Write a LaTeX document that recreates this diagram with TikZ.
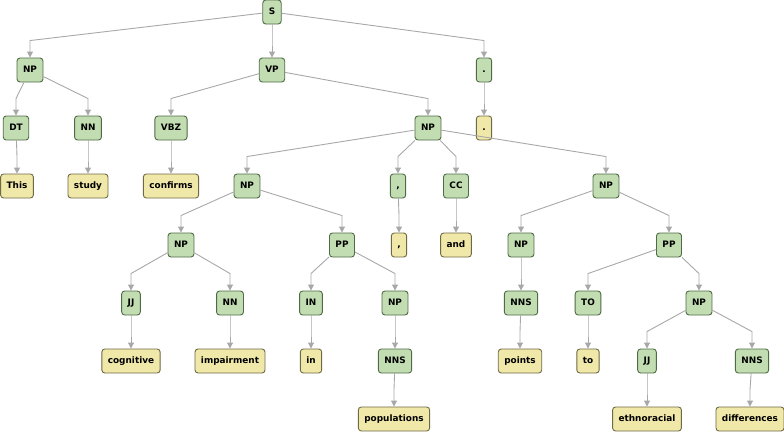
\documentclass[tikz,border=0pt]{standalone}
\usepackage{fontspec}
\setmainfont{DejaVu Sans}
\usetikzlibrary{arrows.meta}
\definecolor{gfill}{HTML}{C3DDB2}
\definecolor{gdraw}{HTML}{4E6B45}
\definecolor{yfill}{HTML}{F0E8A8}
\definecolor{ydraw}{HTML}{6E6A45}
\definecolor{edgec}{HTML}{A8A8A8}
\tikzset{
  base/.style={rounded corners=3pt, line width=0.9pt, minimum height=24pt, inner ysep=0pt, inner xsep=6pt,
    text height=6.5pt, text depth=1.7pt, font=\fontsize{8.9pt}{10pt}\selectfont\bfseries, text=black},
  tag/.style={base, fill=gfill, draw=gdraw},
  word/.style={base, fill=yfill, draw=ydraw},
  conn/.style={draw=edgec, line width=0.9pt, -{Triangle[width=6pt,length=6pt]}},
}
\newcommand{\lnk}[2]{\draw[conn] (#1) -- ([yshift=17pt]#2.north) -- (#2.north);}
\begin{document}
\begin{tikzpicture}[x=1pt,y=-1pt]
\useasboundingbox (0,0) rectangle (784,434);
% level 0
\node[tag] (S) at (272,12) {S};
% level 1
\node[tag] (NPa) at (30,70) {NP};
\node[tag] (VP) at (272,70) {VP};
\node[tag] (dotP) at (484,70) {.};
% level 2
\node[tag] (DT) at (16,128) {DT};
\node[tag] (NNa) at (88,128) {NN};
\node[tag] (VBZ) at (171,128) {VBZ};
\node[tag] (NPb) at (428,128) {NP};
\node[word] (dotW) at (484,128) {.};
% level 3
\node[word] (This) at (17,186) {This};
\node[word] (study) at (88,186) {study};
\node[word] (confirms) at (171,186) {confirms};
\node[tag] (NPc) at (247,186) {NP};
\node[tag] (comP) at (398,186) {,};
\node[tag] (CC) at (456,186) {CC};
\node[tag] (NPd) at (606,186) {NP};
% level 4
\node[tag] (NPe) at (181,245) {NP};
\node[tag] (PPa) at (342,245) {PP};
\node[word] (comW) at (399,245) {,};
\node[word] (and) at (456,245) {and};
\node[tag] (NPf) at (521,245) {NP};
\node[tag] (PPb) at (669,245) {PP};
% level 5
\node[tag] (JJa) at (131,303) {JJ};
\node[tag] (NNb) at (230,303) {NN};
\node[tag] (IN) at (311,303) {IN};
\node[tag] (NPg) at (395,303) {NP};
\node[tag] (NNSa) at (521,303) {NNS};
\node[tag] (TO) at (588,303) {TO};
\node[tag] (NPh) at (699,303) {NP};
% level 6
\node[word] (cognitive) at (131,361) {cognitive};
\node[word] (impairment) at (230,361) {impairment};
\node[word] (in) at (311,361) {in};
\node[tag] (NNSb) at (395,361) {NNS};
\node[word] (points) at (520,361) {points};
\node[word] (to) at (588,361) {to};
\node[tag] (JJb) at (647,361) {JJ};
\node[tag] (NNSc) at (752,361) {NNS};
% level 7
\node[word] (populations) at (394,419) {populations};
\node[word] (ethnoracial) at (647,419) {ethnoracial};
\node[word] (differences) at (750,419) {differences};
% edges
\lnk{S}{NPa} \lnk{S}{VP} \lnk{S}{dotP}
\lnk{NPa}{DT} \lnk{NPa}{NNa}
\lnk{VP}{VBZ} \lnk{VP}{NPb}
\lnk{dotP}{dotW}
\lnk{DT}{This} \lnk{NNa}{study} \lnk{VBZ}{confirms}
\lnk{NPb}{NPc} \lnk{NPb}{comP} \lnk{NPb}{CC} \lnk{NPb}{NPd}
\lnk{NPc}{NPe} \lnk{NPc}{PPa}
\lnk{comP}{comW} \lnk{CC}{and}
\lnk{NPd}{NPf} \lnk{NPd}{PPb}
\lnk{NPe}{JJa} \lnk{NPe}{NNb}
\lnk{PPa}{IN} \lnk{PPa}{NPg}
\lnk{NPf}{NNSa}
\lnk{PPb}{TO} \lnk{PPb}{NPh}
\lnk{JJa}{cognitive} \lnk{NNb}{impairment} \lnk{IN}{in} \lnk{NPg}{NNSb}
\lnk{NNSa}{points} \lnk{TO}{to}
\lnk{NPh}{JJb} \lnk{NPh}{NNSc}
\lnk{NNSb}{populations} \lnk{JJb}{ethnoracial} \lnk{NNSc}{differences}
\end{tikzpicture}
\end{document}
